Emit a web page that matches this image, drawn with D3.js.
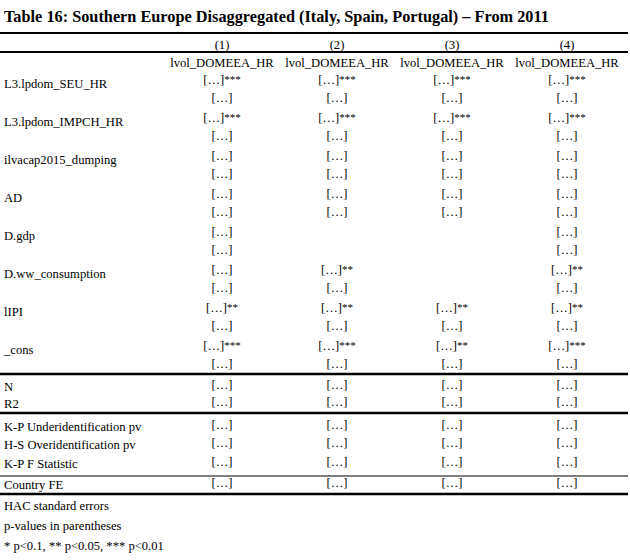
<!DOCTYPE html>
<html><head><meta charset="utf-8">
<script src="https://cdn.jsdelivr.net/npm/d3@7/dist/d3.min.js"></script>
<style>body{margin:0;background:#fff}svg{display:block}</style>
</head><body>
<svg id="c" width="630" height="560"></svg>
<script>
const title = "Table 16: Southern Europe Disaggregated (Italy, Spain, Portugal) – From 2011";
const models = ["(1)", "(2)", "(3)", "(4)"];
const depVars = ["lvol_DOMEEA_HR", "lvol_DOMEEA_HR", "lvol_DOMEEA_HR", "lvol_DOMEEA_HR"];
const varNames = ["L3.lpdom_SEU_HR", "L3.lpdom_IMPCH_HR", "ilvacap2015_dumping", "AD", "D.gdp", "D.ww_consumption", "lIPI", "_cons"];
// coefficient cells ("" = no stars, null = empty cell)
const coefStars = [
  ["***", "***", "***", "***"],
  ["***", "***", "***", "***"],
  ["", "", "", ""],
  ["", "", "", ""],
  ["", null, null, ""],
  ["", "**", null, "**"],
  ["**", "**", "**", "**"],
  ["***", "***", "**", "***"]
];
const statGroups = [
  ["N", "R2"],
  ["K-P Underidentification pv", "H-S Overidentification pv", "K-P F Statistic"],
  ["Country FE"]
];
const notes = ["HAC standard errors", "p-values in parentheses", "* p<0.1, ** p<0.05, *** p<0.01"];
const cell = "[…]";

const svg = d3.select("#c");
const font = "'Liberation Serif', 'Times New Roman', serif";
const x = d3.scalePoint().domain(d3.range(models.length)).range([222, 567]);
const yRow = d3.scaleLinear().domain([0, 1]).range([80, 118]); // coef line of variable row i
const W = 628;
const FS = 12.6;

function txt(xp, yp, s, anchor, opts) {
  opts = opts || {};
  return svg.append("text").attr("x", xp).attr("y", yp)
    .attr("dy", "0.35em")
    .attr("text-anchor", anchor)
    .attr("font-family", font)
    .attr("font-size", opts.size || FS)
    .attr("font-weight", opts.bold ? "bold" : "normal")
    .attr("fill", "#000").text(s);
}
function rule(yp, w) {
  svg.append("line").attr("x1", 0).attr("x2", W).attr("y1", yp).attr("y2", yp)
    .attr("stroke", "#000").attr("stroke-width", w);
}

txt(4, 16, title, "start", {bold: true, size: 16.3});
rule(33, 2);
models.forEach((m, j) => txt(x(j), 45, m, "middle"));
rule(52, 2);
depVars.forEach((d, j) => txt(x(j), 63, d, "middle"));

varNames.forEach((v, i) => {
  const yc = yRow(i);
  txt(4, yc + 4, v, "start");
  coefStars[i].forEach((s, j) => {
    if (s === null) return;
    const g = svg.append("text").attr("x", x(j)).attr("y", yc).attr("dy", "0.35em")
      .attr("text-anchor", "middle").attr("font-family", font).attr("font-size", FS).attr("fill", "#000");
    g.append("tspan").text(cell);
    if (s) g.append("tspan").attr("font-size", 11).attr("dy", "-0.1em").text(s);
    txt(x(j), yc + 18, cell, "middle");
  });
});

const statY = [[387, 404], [427, 445, 464], [485]];
const ruleY = [374, 413, 476, 494];
const ruleW = [2.5, 2.5, 1.2, 2.5];
rule(ruleY[0], ruleW[0]);
statGroups.forEach((grp, g) => {
  grp.forEach((s, k) => {
    const yp = statY[g][k];
    txt(4, yp, s, "start");
    models.forEach((m, j) => txt(x(j), yp - 2, cell, "middle"));
  });
  rule(ruleY[g + 1], ruleW[g + 1]);
});

notes.forEach((n, k) => txt(4, 506 + 20 * k, n, "start"));
</script>
</body></html>
